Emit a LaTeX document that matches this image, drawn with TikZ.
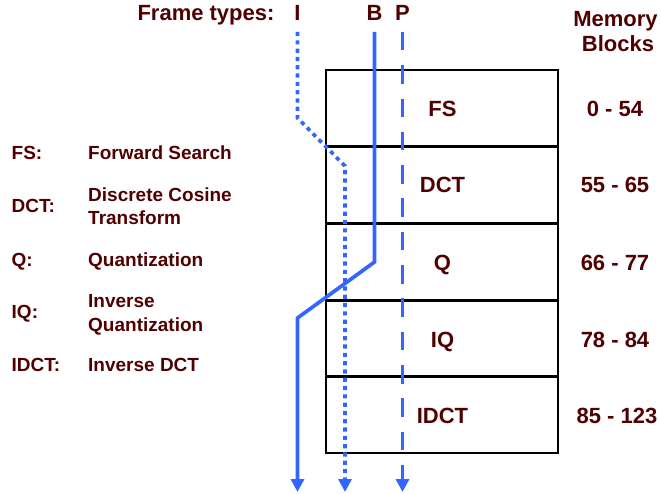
\documentclass[tikz,border=0pt]{standalone}
\usepackage{fontspec}
\setmainfont{Liberation Sans}
\usetikzlibrary{arrows.meta}
\definecolor{txt}{RGB}{80,0,0}
\definecolor{flow}{RGB}{51,102,255}

\begin{document}
\begin{tikzpicture}[x=1pt,y=-1pt,
  lbl/.style={inner sep=0pt, anchor=base, text=txt, font=\fontsize{22}{26}\selectfont\bfseries},
  leg/.style={inner sep=0pt, anchor=base west, text=txt, font=\fontsize{19}{23}\selectfont\bfseries},
  flowline/.style={draw=flow, line width=3.7pt, -{Triangle[width=13pt,length=13pt]}},
  dotline/.style={flowline, dash pattern=on 4.2pt off 4.1pt},
  dashline/.style={flowline, dash pattern=on 18.5pt off 14.8pt},
  outline/.style={draw=black, line width=2pt},
  divider/.style={draw=black, line width=3pt}
]
\useasboundingbox (0,0) rectangle (661,494);

% header
\node[lbl] (hdr) at (206,21) {Frame types:};
\node[lbl] (tI) at (297.5,21) {I};
\node[lbl] (tB) at (374.5,21) {B};
\node[lbl] (tP) at (402.5,21) {P};
\node[lbl] (mem1) at (615.5,27) {Memory};
\node[lbl] (mem2) at (618,52) {Blocks};

% memory stack
\draw[outline] (326,70) rectangle (557.5,453.3);
\foreach \y in {146.7,223.3,300,376.7}
  \draw[divider] (326,\y) -- (557.5,\y);

\node[lbl] (fs)   at (442.5,117) {FS};
\node[lbl] (dct)  at (442.5,193) {DCT};
\node[lbl] (q)    at (442.5,271) {Q};
\node[lbl] (iq)   at (442.5,347) {IQ};
\node[lbl] (idct) at (442.5,423) {IDCT};

\node[lbl] (r1) at (615,117) {0 - 54};
\node[lbl] (r2) at (615,193) {55 - 65};
\node[lbl] (r3) at (615,271) {66 - 77};
\node[lbl] (r4) at (615,347) {78 - 84};
\node[lbl] (r5) at (617,423) {85 - 123};

% legend
\node[leg] (kFS)   at (11.5,160) {FS:};
\node[leg] (dFS)   at (88,160) {Forward Search};
\node[leg] (kDCT)  at (11.5,213) {DCT:};
\node[leg] (dDCTa) at (88,201.7) {Discrete Cosine};
\node[leg] (dDCTb) at (88,225) {Transform};
\node[leg] (kQ)    at (11.5,266.7) {Q:};
\node[leg] (dQ)    at (88,266.7) {Quantization};
\node[leg] (kIQ)   at (11.5,318) {IQ:};
\node[leg] (dIQa)  at (88,307.3) {Inverse};
\node[leg] (dIQb)  at (88,331.7) {Quantization};
\node[leg] (kIDCT) at (11.5,371.7) {IDCT:};
\node[leg] (dIDCT) at (88,371.7) {Inverse DCT};

% frame paths
\coordinate (iS) at (297.5,32);
\coordinate (iK1) at (297.5,118);
\coordinate (iK2) at (345,166);
\coordinate (iE) at (345,492);
\coordinate (bS) at (374.5,32);
\coordinate (bK1) at (374.5,262);
\coordinate (bK2) at (297.5,318);
\coordinate (bE) at (297.5,492);
\coordinate (pS) at (402.5,32);
\coordinate (pE) at (402.5,492);

\draw[dotline] (iS) -- (iK1) -- (iK2) -- (iE);
\draw[flowline] (bS) -- (bK1) -- (bK2) -- (bE);
\draw[dashline] (pS) -- (pE);
\end{tikzpicture}
\end{document}
